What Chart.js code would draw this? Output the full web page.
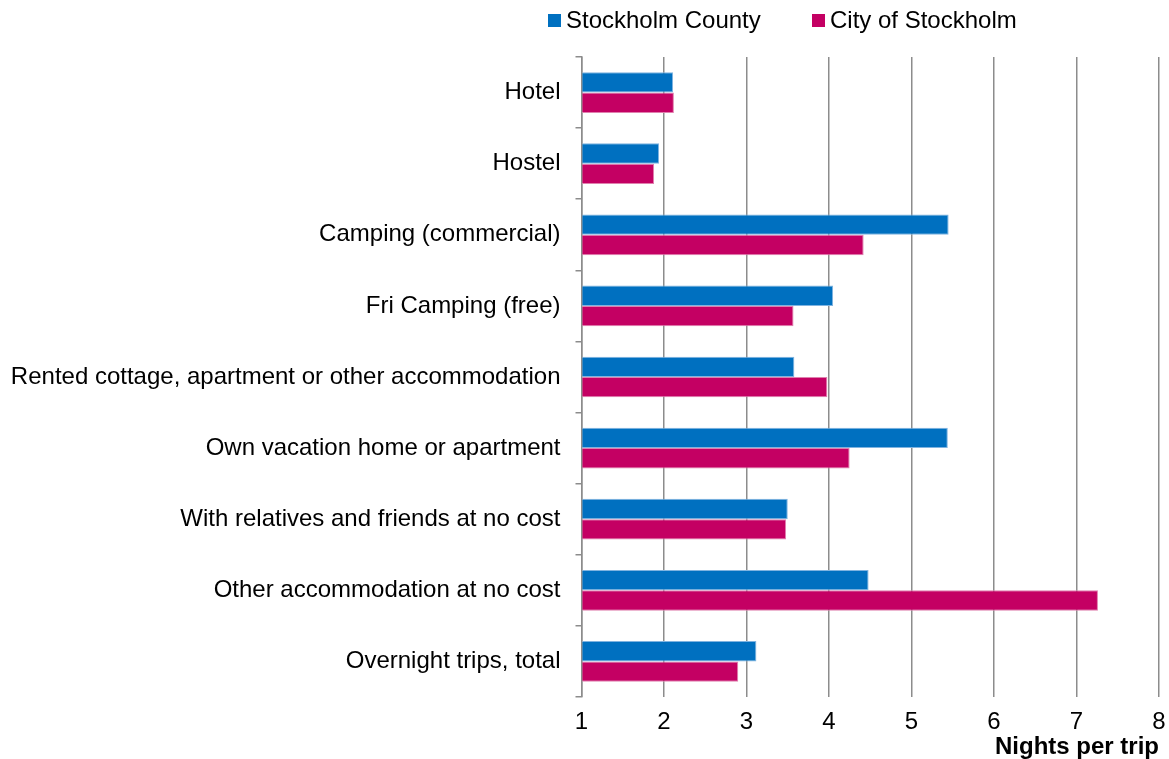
<!DOCTYPE html>
<html>
<head>
<meta charset="utf-8">
<script src="https://cdn.jsdelivr.net/npm/chart.js@4"></script>
<style>
  html, body { margin: 0; padding: 0; background: #fff; }
  #wrap { width: 1169px; height: 759px; position: relative; }
</style>
</head>
<body>
<div id="wrap"><canvas id="accChart"></canvas></div>
<script>
// Nights per trip by accommodation type
const categories = [
    "Hotel",
    "Hostel",
    "Camping (commercial)",
    "Fri Camping (free)",
    "Rented cottage, apartment or other accommodation",
    "Own vacation home or apartment",
    "With relatives and friends at no cost",
    "Other accommodation at no cost",
    "Overnight trips, total"
];
const seriesNames = ["Stockholm County", "City of Stockholm"];
const countyValues = [2.11, 1.94, 5.45, 4.05, 3.58, 5.44, 3.50, 4.48, 3.12];
const cityValues = [2.12, 1.88, 4.42, 3.57, 3.98, 4.25, 3.48, 7.26, 2.90];
const xTicks = [1, 2, 3, 4, 5, 6, 7, 8];

const FONT = "'Liberation Sans', Arial, sans-serif";
const blue = "#0070C0";
const pink = "#C40063";

// legend drawn on top, offset like the original
const topLegend = {
    id: "topLegend",
    afterDraw(chart) {
        const ctx = chart.ctx;
        const items = chart.data.datasets;
        const starts = [548, 812];
        ctx.save();
        ctx.font = "24px " + FONT;
        ctx.textBaseline = "middle";
        items.forEach((ds, i) => {
            ctx.fillStyle = ds.backgroundColor;
            ctx.fillRect(starts[i], 14, 13, 13);
            ctx.fillStyle = "#000";
            ctx.fillText(ds.label, starts[i] + 18, 21);
        });
        ctx.restore();
    }
};

const ctx = document.getElementById("accChart").getContext("2d");
const accChart = new Chart(ctx, {
    type: "bar",
    data: {
        labels: categories,
        datasets: [
            {
                label: seriesNames[0],
                data: countyValues,
                backgroundColor: blue,
                borderColor: "#7FB3E0",
                borderWidth: 1,
                categoryPercentage: 0.573,
                barPercentage: 1.0
            },
            {
                label: seriesNames[1],
                data: cityValues,
                backgroundColor: pink,
                borderColor: "#E080AE",
                borderWidth: 1,
                categoryPercentage: 0.573,
                barPercentage: 1.0
            }
        ]
    },
    options: {
        indexAxis: "y",
        responsive: true,
        maintainAspectRatio: false,
        animation: false,
        base: 1,
        layout: { padding: { top: 57, left: 8, right: 0, bottom: 0 } },
        plugins: {
            legend: { display: false },
            tooltip: { enabled: false }
        },
        scales: {
            x: {
                min: 1,
                max: 8,
                afterBuildTicks: (axis) => { axis.ticks = xTicks.map(v => ({ value: v })); },
                afterFit: (scale) => {
                    scale.height = 62;
                    scale.paddingRight = 10;
                },
                grid: { color: "#8C8C8C", lineWidth: 1.5, drawTicks: false },
                border: { display: false },
                ticks: { color: "#000", padding: 13, font: { family: FONT, size: 24, lineHeight: 1.0 } },
                title: {
                    display: true,
                    text: "Nights per trip",
                    align: "end",
                    color: "#000",
                    padding: { top: 2, bottom: 0 },
                    font: { family: FONT, size: 24, weight: "bold", lineHeight: 1.0 }
                }
            },
            y: {
                afterFit: (scale) => { scale.width = 573.5; },
                grid: {
                    offset: true,
                    drawOnChartArea: false,
                    drawTicks: true,
                    tickLength: 6,
                    color: "#8C8C8C",
                    lineWidth: 1.5
                },
                border: { display: true, color: "#8C8C8C", width: 1.5 },
                ticks: { color: "#000", padding: 15, font: { family: FONT, size: 24 } }
            }
        }
    },
    plugins: [topLegend]
});
</script>
</body>
</html>
